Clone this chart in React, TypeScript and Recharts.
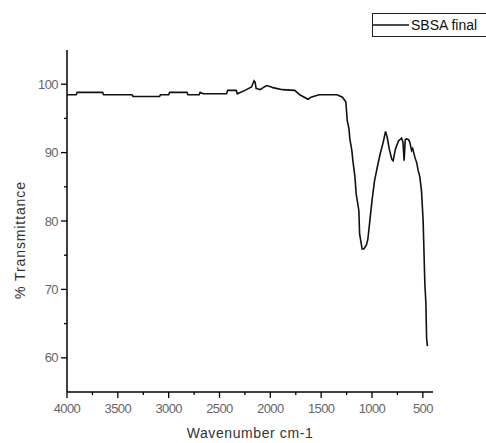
import React from 'react';
import { LineChart, Line, XAxis, YAxis, Legend } from 'recharts';

const wavenumbers = [
  4000, 3910, 3900, 3650, 3640, 3360, 3350, 3090, 3080, 3000, 2990, 2820, 2810, 2700, 2690, 2660,
  2430, 2420, 2335, 2325, 2250, 2185, 2160, 2150, 2140, 2100, 2060, 2035, 1990, 1975, 1880, 1760,
  1710, 1630, 1600, 1520, 1345, 1290, 1257, 1244, 1227, 1218, 1198, 1188, 1168, 1156, 1129, 1122,
  1097, 1080, 1055, 1041, 1018, 998, 975, 942, 920, 890, 867, 850, 830, 805, 792, 770, 740, 709,
  695, 684, 673, 660, 640, 628, 611, 600, 578, 560, 546, 530, 513, 497, 480, 470, 463, 455,
];
const transmittance = [
  98.45, 98.45, 98.8, 98.8, 98.45, 98.45, 98.2, 98.2, 98.45, 98.45, 98.8, 98.8, 98.45, 98.45, 98.8, 98.6,
  98.6, 99.1, 99.1, 98.6, 99.1, 99.6, 100.5, 100.3, 99.4, 99.2, 99.6, 99.8, 99.6, 99.5, 99.2, 99.1,
  98.45, 97.8, 98.1, 98.45, 98.45, 98.1, 97.4, 94.7, 93.5, 92, 90.3, 88.8, 86.5, 84, 81.5, 78.1,
  75.9, 75.9, 76.5, 77.3, 80.5, 83.2, 85.9, 88.3, 89.8, 91.5, 93.1, 92.2, 90.5, 89, 88.8, 90.5, 91.7, 92.1,
  91.5, 88.8, 91.9, 92, 91.9, 91.5, 90.3, 90.6, 89.3, 88.5, 87.4, 86.5, 84.4, 80, 70.8, 68, 62.9, 61.7,
];
const xTicks = [4000, 3750, 3500, 3250, 3000, 2750, 2500, 2250, 2000, 1750, 1500, 1250, 1000, 750, 500];
const yTicks = [60, 65, 70, 75, 80, 85, 90, 95, 100];
const seriesName = 'SBSA final';
const xTitle = 'Wavenumber cm-1';
const yTitle = '% Transmittance';

const data = wavenumbers.map((w, i) => ({ w, t: transmittance[i] }));

const FONT = '"Liberation Sans", Arial, sans-serif';

const XTick = (props: any) => {
  const { x, y, payload } = props;
  const major = payload.value % 500 === 0;
  return (
    <g>
      <line x1={x} y1={y} x2={x} y2={y + (major ? 6 : 3)} stroke="#000" strokeWidth={1.3} />
      {major && (
        <text x={x} y={y + 21} textAnchor="middle" fontFamily={FONT} fontSize={13} letterSpacing={-0.6} fill="#666">
          {payload.value}
        </text>
      )}
    </g>
  );
};

const YTick = (props: any) => {
  const { x, y, payload } = props;
  const major = payload.value % 10 === 0;
  return (
    <g>
      <line x1={x} y1={y} x2={x - (major ? 6 : 3)} y2={y} stroke="#000" strokeWidth={1.3} />
      {major && (
        <text x={x - 9} y={y + 4.5} textAnchor="end" fontFamily={FONT} fontSize={13} letterSpacing={-0.6} fill="#666">
          {payload.value}
        </text>
      )}
    </g>
  );
};

const LegendBox = () => (
  <div
    style={{
      width: 130,
      height: 22,
      border: '1.5px solid #222',
      display: 'flex',
      alignItems: 'center',
      background: '#fff',
      fontFamily: FONT,
      fontSize: 14,
      color: '#111',
      boxSizing: 'content-box',
    }}
  >
    <svg width={36} height={22} style={{ display: 'block' }}>
      <line x1={0} y1={11} x2={36} y2={11} stroke="#111" strokeWidth={1.5} />
    </svg>
    <span style={{ marginLeft: 2, whiteSpace: 'nowrap' }}>{seriesName}</span>
  </div>
);

export default function App() {
  return (
    <div style={{ position: 'absolute', left: 0, top: 0, width: 486, height: 443, overflow: 'hidden', background: '#fff' }}>
      <LineChart width={486} height={443} data={data} margin={{ top: 50, right: 53, bottom: 0, left: 0 }}>
        <XAxis
          dataKey="w"
          type="number"
          domain={[400, 4000]}
          reversed
          allowDataOverflow
          ticks={xTicks}
          interval={0}
          height={51}
          tickSize={0}
          tickMargin={0}
          tickLine={false}
          axisLine={{ stroke: '#000', strokeWidth: 1.5 }}
          tick={<XTick />}
          label={(p: any) => {
            const vb = p.viewBox;
            return (
              <text x={vb.x + vb.width / 2} y={vb.y + 46} textAnchor="middle" fontFamily={FONT} fontSize={14} letterSpacing={0.6} fill="#333">
                {xTitle}
              </text>
            );
          }}
        />
        <YAxis
          type="number"
          domain={[55, 105]}
          allowDataOverflow
          ticks={yTicks}
          interval={0}
          width={67}
          tickSize={0}
          tickMargin={0}
          tickLine={false}
          axisLine={{ stroke: '#000', strokeWidth: 1.5 }}
          tick={<YTick />}
          label={(p: any) => {
            const vb = p.viewBox;
            const cx = 25;
            const cy = vb.y + vb.height / 2 + 19;
            return (
              <text x={cx} y={cy} transform={`rotate(-90 ${cx} ${cy})`} textAnchor="middle" fontFamily={FONT} fontSize={14} letterSpacing={0.9} fill="#333">
                {yTitle}
              </text>
            );
          }}
        />
        <Legend
          layout="horizontal"
          verticalAlign="middle"
          align="center"
          content={<LegendBox />}
          wrapperStyle={{ position: 'absolute', left: 372, top: 13, width: 140, right: 'auto', bottom: 'auto' }}
        />
        <Line
          type="linear"
          dataKey="t"
          name={seriesName}
          stroke="#111"
          strokeWidth={1.6}
          dot={false}
          isAnimationActive={false}
        />
      </LineChart>
    </div>
  );
}
